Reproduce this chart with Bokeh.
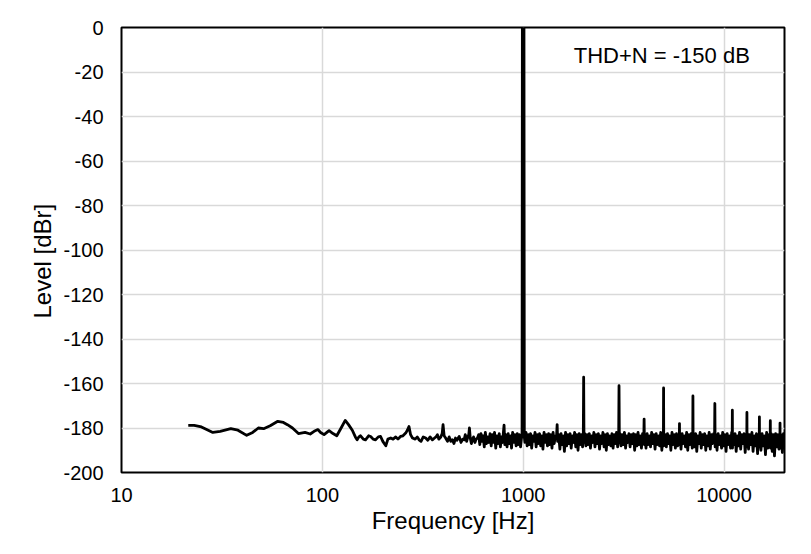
from bokeh.plotting import figure
from bokeh.models import Range1d, FixedTicker, Label, Title
from bokeh.embed import file_html
from bokeh.resources import INLINE

# ---- data ----
# low-frequency part (sparse, smooth)
lf_freq = [21.5, 23, 25, 28.5, 31, 35, 38, 42, 45, 48, 51, 55, 60, 64, 67, 71, 76, 82, 87, 91,
           95, 98, 102, 108, 113, 118, 124, 130, 135, 141, 146, 149, 152, 155, 160, 164, 170, 174,
           179, 184, 190, 195, 200, 207, 212, 219, 225, 232, 238, 245, 252, 260, 265, 270, 275,
           281, 290, 297, 303, 310, 318, 327, 335, 344, 353, 362, 368, 374, 380, 388, 395, 399,
           404, 411, 420, 428, 436, 444, 452, 460, 468, 480, 490, 500, 508, 515, 523, 530, 536,
           540, 545, 552, 559, 566, 575, 583, 592]
lf_level = [-178.8, -178.8, -179.5, -182.0, -181.5, -180.3, -181.0, -183.3, -182.0, -180.0,
            -180.3, -179.0, -177.0, -177.5, -178.5, -180.0, -182.5, -182.0, -182.7, -181.5,
            -180.7, -182.0, -183.0, -181.2, -182.5, -183.5, -180.0, -176.6, -178.5, -181.0,
            -184.0, -185.3, -184.0, -183.5, -185.0, -185.3, -183.5, -183.8, -185.0, -185.3,
            -184.0, -183.8, -186.0, -188.0, -185.0, -184.5, -185.0, -184.0, -185.0, -183.8,
            -183.5, -182.3, -181.0, -179.3, -183.0, -184.5, -185.0, -184.0, -185.3, -186.0,
            -184.0, -184.5, -185.5, -184.0, -185.3, -184.5, -184.0, -183.0, -185.0, -184.2,
            -182.5, -178.5, -183.5, -184.5, -186.0, -184.0, -186.0, -185.3, -187.0, -184.5,
            -185.5, -183.8, -186.5, -185.0, -185.3, -183.0, -186.0, -184.0, -183.0, -180.0,
            -184.5, -187.0, -185.3, -184.0, -186.5, -185.0, -184.5]

# dense noise floor below the fundamental
band1_freq = [600, 608, 616, 624, 632, 640, 648, 657, 666, 675,
              684, 693, 702, 711, 720, 730, 740, 750, 760, 770,
              780, 790, 797, 803, 810, 820, 831, 842, 853, 864,
              875, 886, 898, 910, 922, 934, 946, 958, 970, 982]
band1_level = [-183.0, -187.5, -182.5, -186.0, -183.5, -188.5, -182.0, -187.0, -184.0, -186.5,
               -182.5, -188.0, -183.0, -186.5, -182.0, -189.0, -183.5, -187.0, -182.5, -188.5,
               -184.0, -186.5, -182.0, -178.7, -187.5, -183.0, -188.5, -182.5, -187.0, -183.5,
               -189.0, -182.0, -186.5, -183.0, -188.0, -182.5, -187.5, -183.0, -188.5, -184.0]

# fundamental at 1 kHz
fund_freq = [987, 990.5, 995, 1000, 1004, 1009, 1013]
fund_level = [-184.0, 0.0, -184.0, 0.0, -184.0, 0.0, -184.0]

# noise floor and harmonics 1 kHz .. 5 kHz
band2_freq = [1020, 1033, 1046, 1060, 1074, 1088, 1102, 1116, 1130, 1145,
              1160, 1175, 1190, 1206, 1222, 1238, 1254, 1270, 1287, 1304,
              1321, 1338, 1355, 1373, 1391, 1409, 1427, 1446, 1465, 1476,
              1484, 1503, 1523, 1543, 1563, 1583, 1604, 1625, 1646, 1668,
              1690, 1712, 1734, 1757, 1780, 1803, 1827, 1851, 1875, 1900,
              1925, 1950, 1975, 1992, 2000, 2008, 2026, 2052, 2079, 2106,
              2134, 2162, 2190, 2219, 2248, 2277, 2307, 2337, 2368, 2399,
              2430, 2462, 2494, 2527, 2560, 2593, 2627, 2661, 2696, 2731,
              2767, 2803, 2840, 2877, 2915, 2953, 2988, 3000, 3012, 3031,
              3070, 3110, 3151, 3192, 3234, 3276, 3319, 3362, 3406, 3451,
              3496, 3542, 3588, 3635, 3683, 3731, 3780, 3829, 3879, 3930,
              3985, 4000, 4015, 4034, 4087, 4140, 4194, 4249, 4305, 4361,
              4418, 4476, 4534, 4593, 4653, 4714, 4776, 4838, 4901, 4965,
              4990, 5000, 5010, 5030]
band2_level = [-186.5, -182.0, -188.0, -183.0, -187.5, -182.5, -189.0, -183.5, -186.0, -182.0,
               -188.5, -183.0, -187.0, -182.5, -188.0, -183.5, -189.5, -182.0, -186.5, -183.0,
               -188.0, -182.5, -187.5, -183.0, -189.0, -182.0, -187.0, -183.5, -184.0, -178.5,
               -186.0, -183.0, -189.5, -182.5, -187.5, -183.5, -190.5, -182.0, -188.0, -183.0,
               -187.0, -182.5, -189.0, -183.5, -186.5, -182.0, -188.5, -183.0, -190.0, -182.5,
               -187.5, -183.0, -188.5, -184.0, -157.2, -186.5, -182.5, -188.0, -183.0, -187.5,
               -182.5, -189.0, -183.5, -186.5, -182.0, -188.5, -183.0, -187.0, -182.5, -189.5,
               -183.5, -187.0, -182.0, -188.5, -183.0, -190.0, -182.5, -187.5, -183.5, -188.0,
               -182.5, -189.0, -183.0, -187.0, -182.0, -188.5, -184.0, -161.0, -186.5, -182.5,
               -188.0, -183.0, -187.5, -182.0, -189.0, -183.5, -186.5, -182.5, -188.5, -183.0,
               -187.0, -182.5, -190.0, -183.0, -188.0, -182.0, -187.5, -183.5, -189.0, -182.5,
               -185.0, -176.0, -187.5, -183.0, -189.0, -182.5, -187.5, -183.5, -188.5, -182.0,
               -187.0, -183.0, -189.5, -182.5, -187.5, -183.5, -188.0, -182.0, -190.0, -183.0,
               -185.0, -162.0, -188.0, -183.0]

# noise floor and harmonics 5 kHz .. 20 kHz
band3_freq = [5095, 5161, 5228, 5296, 5365, 5435, 5506, 5578, 5651, 5724,
              5798, 5873, 5950, 5990, 6000, 6010, 6028, 6106, 6185, 6265,
              6346, 6428, 6511, 6596, 6682, 6769, 6857, 6946, 6985, 7000,
              7015, 7036, 7127, 7220, 7314, 7409, 7505, 7603, 7702, 7802,
              7903, 8006, 8110, 8215, 8322, 8430, 8540, 8651, 8763, 8877,
              8970, 9000, 9030, 9110, 9228, 9348, 9470, 9593, 9718, 9844,
              9972, 10102, 10233, 10366, 10501, 10637, 10775, 10915, 10980, 11000,
              11020, 11057, 11201, 11347, 11494, 11643, 11794, 11947, 12102, 12259,
              12418, 12579, 12743, 12909, 12980, 13000, 13020, 13077, 13247, 13419,
              13593, 13770, 13949, 14130, 14314, 14500, 14689, 14880, 14980, 15000,
              15020, 15073, 15269, 15467, 15668, 15872, 16078, 16287, 16499, 16713,
              16930, 16980, 17000, 17020, 17150, 17373, 17599, 17828, 18060, 18295,
              18533, 18774, 18980, 19000, 19020, 19265, 19515, 19769, 20000, 20100]
band3_level = [-183.0, -188.5, -182.5, -187.0, -183.5, -190.0, -182.0, -187.5, -183.0, -189.0,
               -182.5, -188.0, -183.5, -185.0, -178.0, -187.5, -183.0, -189.5, -182.5, -187.0,
               -183.5, -188.5, -182.0, -190.0, -183.0, -187.5, -182.5, -189.0, -184.0, -165.6,
               -187.5, -183.0, -188.5, -182.5, -190.5, -183.5, -187.0, -182.0, -189.0, -183.0,
               -187.5, -182.5, -190.0, -183.5, -188.0, -182.0, -189.5, -183.0, -187.0, -182.5,
               -185.0, -169.0, -188.5, -183.0, -190.0, -182.5, -187.5, -183.5, -189.0, -182.0,
               -188.0, -183.0, -190.5, -182.5, -187.5, -183.5, -189.0, -182.0, -185.0, -172.0,
               -189.0, -183.0, -187.5, -182.5, -190.5, -183.5, -188.0, -182.0, -189.5, -183.0,
               -187.0, -182.5, -191.0, -183.0, -185.0, -173.0, -188.5, -182.5, -189.5, -183.0,
               -187.5, -182.0, -190.5, -183.5, -188.0, -182.5, -191.5, -183.0, -184.5, -175.0,
               -188.5, -183.0, -190.0, -182.5, -188.0, -183.5, -192.0, -182.0, -189.0, -183.0,
               -187.5, -184.0, -176.7, -189.0, -182.5, -190.5, -183.0, -192.5, -182.5, -188.5,
               -183.0, -189.5, -184.5, -177.8, -189.0, -183.0, -191.0, -182.5, -188.0, -184.0]

x_ticks = [10, 100, 1000, 10000]
x_tick_labels = ["10", "100", "1000", "10000"]
y_ticks = [0, -20, -40, -60, -80, -100, -120, -140, -160, -180, -200]
y_tick_labels = ["0", "-20", "-40", "-60", "-80", "-100", "-120", "-140", "-160", "-180", "-200"]
annotation = "THD+N = -150 dB"
x_title = "Frequency [Hz]"
y_title = "Level [dBr]"

freq = lf_freq + band1_freq + fund_freq + band2_freq + band3_freq
level = lf_level + band1_level + fund_level + band2_level + band3_level

FONT = "Liberation Sans"

p = figure(width=795, height=538, output_backend="svg", toolbar_location=None,
           x_axis_type="log", x_range=Range1d(10, 20000), y_range=Range1d(-200, 0),
           min_border_left=121, min_border_right=11, min_border_top=27, min_border_bottom=66,
           background_fill_color="white", border_fill_color="white")

p.line(freq, level, line_color="black", line_width=2.8, line_join="round")

p.outline_line_color = "black"
p.outline_line_width = 2

p.xaxis.ticker = FixedTicker(ticks=x_ticks)
p.xaxis.major_label_overrides = {t: s for t, s in zip(x_ticks, x_tick_labels)}
p.yaxis.ticker = FixedTicker(ticks=y_ticks)
p.yaxis.major_label_overrides = {t: s for t, s in zip(y_ticks, y_tick_labels)}

for ax in (p.xaxis, p.yaxis):
    ax.axis_line_color = None
    ax.major_tick_line_color = None
    ax.minor_tick_line_color = None
    ax.major_tick_out = 0
    ax.major_tick_in = 0
    ax.minor_tick_out = 0
    ax.minor_tick_in = 0
    ax.major_label_text_font = FONT
    ax.major_label_text_font_size = "20px"
    ax.major_label_text_color = "black"
    ax.axis_label_text_font = FONT
    ax.axis_label_text_font_size = "24px"
    ax.axis_label_text_font_style = "normal"
    ax.axis_label_text_color = "black"

p.xaxis.axis_label = x_title
p.xaxis.major_label_standoff = 15
p.xaxis.axis_label_standoff = 2
p.yaxis.major_label_standoff = 18

p.xgrid.ticker = FixedTicker(ticks=x_ticks)
p.ygrid.ticker = FixedTicker(ticks=y_ticks)
p.xgrid.grid_line_color = "#d9d9d9"
p.ygrid.grid_line_color = "#d9d9d9"
p.xgrid.grid_line_width = 1.5
p.ygrid.grid_line_width = 1.5
p.xgrid.minor_grid_line_color = None

# y-axis title, sitting a little below the frame centre as in the original
p.add_layout(Title(text=y_title, align="left", offset=154, standoff=10,
                   text_font=FONT, text_font_size="24px", text_font_style="normal",
                   text_color="black"), "left")

p.add_layout(Label(x=1785, y=-12.7, text=annotation, text_font=FONT, text_font_size="22px",
                   text_color="black", text_align="left", text_baseline="alphabetic"))

open("out.html", "w").write(file_html(p, INLINE))
